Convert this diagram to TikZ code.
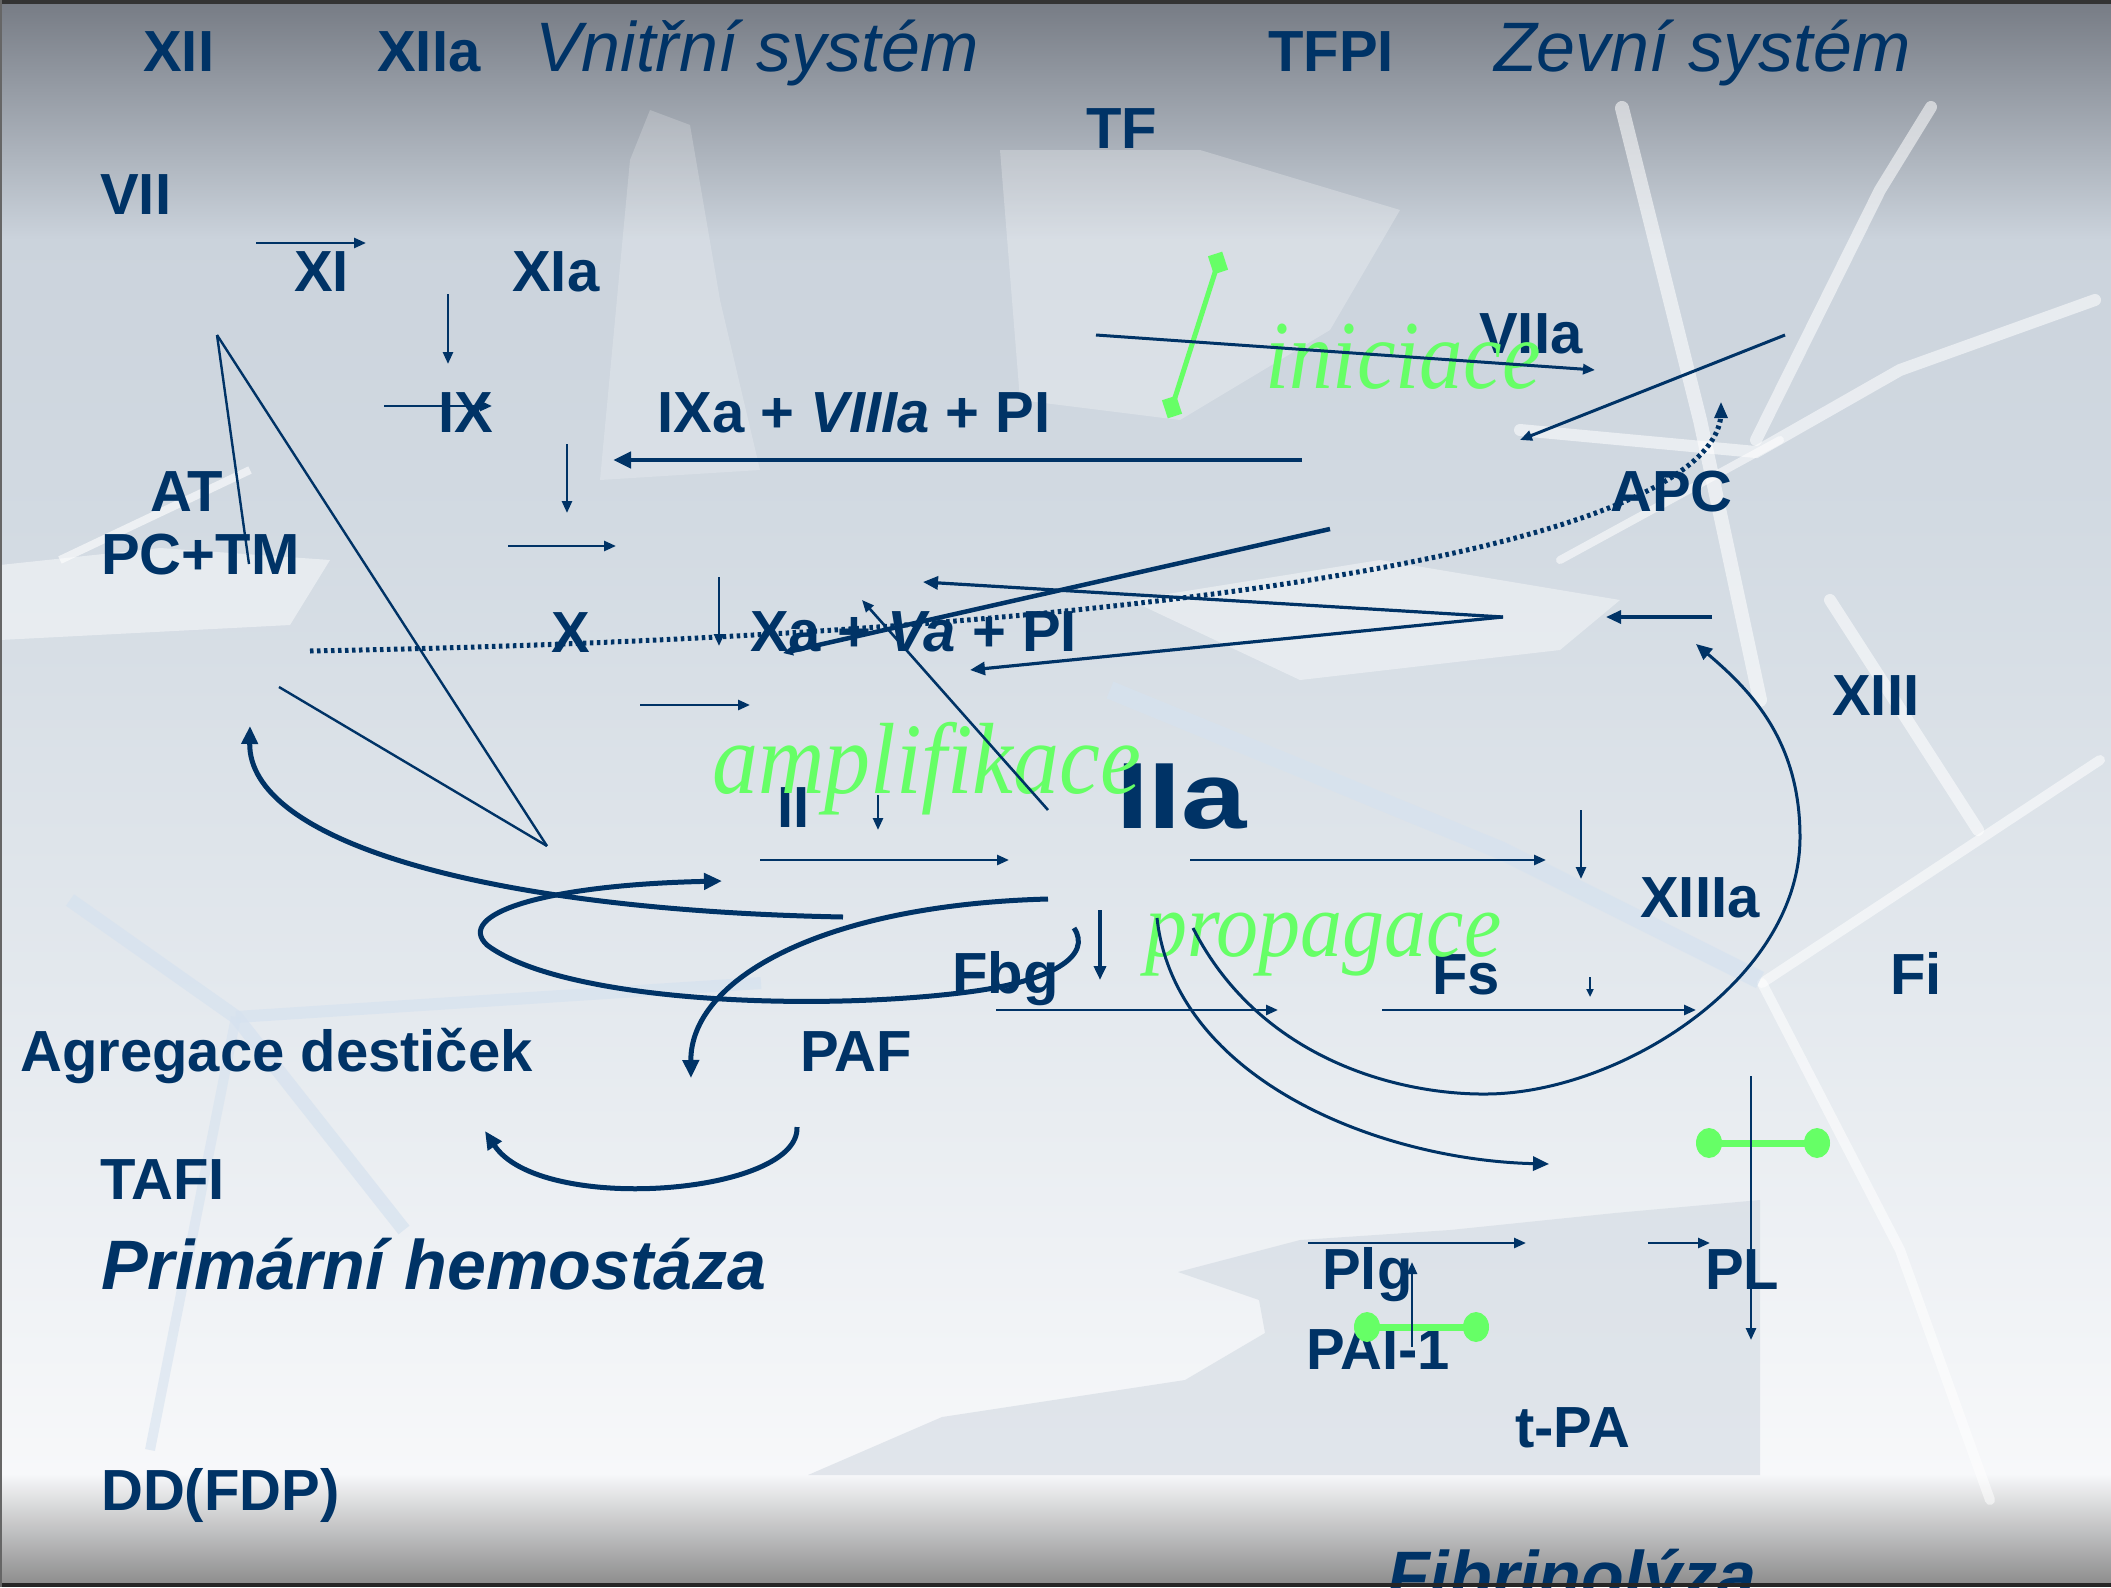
\documentclass[tikz,border=0pt]{standalone}
\usepackage{fontspec}
\usepackage{graphicx}
\setmainfont{Liberation Sans}
\newfontfamily\grnfont{Liberation Serif}
\usetikzlibrary{arrows.meta}
\definecolor{navy}{HTML}{003366}
\definecolor{grn}{HTML}{66FF66}
\definecolor{bgA}{HTML}{767B84}
\definecolor{bgB}{HTML}{CBD3DC}
\definecolor{bgC}{HTML}{D2DAE2}
\definecolor{bgD}{HTML}{E4E9EE}
\definecolor{bgE}{HTML}{F7F8FA}
\definecolor{bgF}{HTML}{8E8E8E}
\definecolor{paleblue}{HTML}{D6E2EF}
\definecolor{shard}{HTML}{CFD7E0}
\begin{document}
\begin{tikzpicture}[x=1pt,y=-1pt,
  lbl/.style={text=navy,font=\bfseries\fontsize{58}{60}\selectfont,inner sep=0pt,anchor=base west},
  ttl/.style={text=navy,font=\itshape\fontsize{70}{72}\selectfont,inner sep=0pt,anchor=base west},
  bit/.style={text=navy,font=\bfseries\itshape\fontsize{70}{72}\selectfont,inner sep=0pt,anchor=base west},
  gtxt/.style={text=grn,inner sep=0pt,anchor=base west},
  thin/.style={draw=navy,line width=2.6pt,-{Triangle[length=12pt,width=10pt]}},
  thinline/.style={draw=navy,line width=2.4pt},
  mid/.style={draw=navy,line width=3.2pt,-{Triangle[length=15pt,width=13pt]}},
  thick/.style={draw=navy,line width=5pt,-{Triangle[length=18pt,width=16pt]}},
  dotline/.style={draw=navy,line width=5pt,dash pattern=on 3.5pt off 3.5pt},
  gbar/.style={draw=grn,line width=7pt},
  streak/.style={draw=white,opacity=0.55,line cap=round},
]
\useasboundingbox (0,0) rectangle (2111,1587);
% ---------- background ----------
\fill[top color=bgA,bottom color=bgB] (0,0) rectangle (2111,240);
\fill[top color=bgB,bottom color=bgC] (0,239) rectangle (2111,520);
\fill[top color=bgC,bottom color=bgD] (0,519) rectangle (2111,1000);
\fill[top color=bgD,bottom color=bgE] (0,999) rectangle (2111,1475);
\fill[top color=bgE,bottom color=bgF] (0,1474) rectangle (2111,1583);
% shards
\fill[white,opacity=0.2] (600,480) -- (630,160) -- (650,110) -- (690,125) -- (720,300) -- (760,470) -- cycle;
\fill[white,opacity=0.45] (0,565) -- (160,548) -- (330,560) -- (290,625) -- (0,640) -- cycle;
\fill[white,opacity=0.25] (1000,150) -- (1200,150) -- (1400,210) -- (1330,330) -- (1180,420) -- (1020,400) -- cycle;
\fill[shard,opacity=0.55] (1178,1272) -- (1259,1300) -- (1265,1333) -- (1185,1380) -- (942,1417) -- (808,1475) -- (1760,1475) -- (1760,1200) -- (1615,1213) -- (1450,1230) -- (1300,1240) -- cycle;
\fill[white,opacity=0.4] (1130,600) -- (1380,560) -- (1620,600) -- (1560,650) -- (1300,680) -- cycle;
\draw[streak,line width=14pt] (1622,108) -- (1700,420) -- (1760,700);
\draw[streak,line width=12pt] (1931,107) -- (1880,190) -- (1756,440);
\draw[streak,line width=12pt] (2095,300) -- (1900,370) -- (1756,452) -- (1520,430);
\draw[streak,line width=12pt] (1830,600) -- (1978,830);
\draw[streak,line width=10pt] (1762,983) -- (2100,760);
\draw[streak,line width=10pt] (1762,983) -- (1900,1250) -- (1990,1500);
\draw[streak,line width=8pt] (1780,440) -- (1560,560);
\draw[paleblue,line width=18pt,opacity=0.7] (1110,690) -- (1500,850) -- (1760,980);
\draw[paleblue,line width=14pt,opacity=0.7] (70,900) -- (236,1017) -- (404,1230);
\draw[paleblue,line width=12pt,opacity=0.7] (236,1017) -- (761,983);
\draw[paleblue,line width=10pt,opacity=0.6] (236,1017) -- (150,1450);
\draw[white,opacity=0.6,line width=8pt] (60,560) -- (250,470);
% ---------- navy labels ----------
\node[lbl] (xii) at (143,71) {XII};
\node[lbl] (xiia) at (377,71) {XIIa};
\node[ttl] (vnitrni) at (535,71) {Vnitřní systém};
\node[lbl] (tfpi) at (1268,71) {TFPI};
\node[ttl] (zevni) at (1494,71) {Zevní systém};
\node[lbl] (tf) at (1086,148) {TF};
\node[lbl] (vii) at (100,214) {VII};
\node[lbl] (xi) at (294,291) {XI};
\node[lbl] (xia) at (512,291) {XIa};
\node[lbl] (ix) at (438,432) {IX};
\node[lbl] (ixa) at (657,432) {IXa + \textit{VIIIa} + PI};
\node[lbl] (viia) at (1479,353) {VIIa};
\node[lbl] (apc) at (1610,511) {APC};
\node[lbl] (at) at (150,511) {AT};
\node[lbl] (pctm) at (101,574) {PC+TM};
\node[lbl] (x) at (551,652) {X};
\node[lbl] (xa) at (750,651) {Xa + \textit{Va} + PI};
\node[lbl] (ii) at (777,827) {II};
\node[lbl,font=\bfseries\fontsize{94}{96}\selectfont] (iia) at (1116,828) {\scalebox{1.25}[1]{IIa}};
\node[lbl] (xiii) at (1832,715) {XIII};
\node[lbl] (xiiia) at (1640,917) {XIIIa};
\node[lbl] (fbg) at (952,993) {Fbg};
\node[lbl] (fs) at (1432,994) {Fs};
\node[lbl] (fi) at (1890,994) {Fi};
\node[lbl] (agr) at (20,1071) {Agregace destiček};
\node[lbl] (paf) at (800,1071) {PAF};
\node[lbl] (tafi) at (100,1199) {TAFI};
\node[bit] (prim) at (101,1289) {Primární hemostáza};
\node[lbl] (plg) at (1322,1289) {Plg};
\node[lbl] (pl) at (1705,1289) {PL};
\node[lbl] (pai) at (1306,1369) {PAI-1};
\node[lbl] (tpa) at (1515,1447) {t-PA};
\node[lbl] (ddfdp) at (101,1510) {DD(FDP)};
\node[bit] (fibr) at (1387,1600) {Fibrinolýza};
% ---------- green labels ----------
\node[gtxt,font=\grnfont\itshape\fontsize{87}{90}\selectfont] (inic) at (1265,388) {\scalebox{1}[1.12]{iniciace}};
\node[gtxt,font=\grnfont\itshape\fontsize{92}{95}\selectfont] (ampl) at (712,793) {\scalebox{1}[1.1]{amplifikace}};
\node[gtxt,font=\grnfont\itshape\fontsize{84}{87}\selectfont] (prop) at (1145,956) {\scalebox{1}[1.1]{propagace}};
% green bars
\coordinate (g1a) at (1218,263); \coordinate (g1b) at (1172,407);
\draw[gbar,line width=5pt] (g1a) -- (g1b);
\node[fill=grn,inner sep=0pt,minimum width=15pt,minimum height=19pt,rotate=18] (g1ca) at (g1a) {};
\node[fill=grn,inner sep=0pt,minimum width=15pt,minimum height=19pt,rotate=18] (g1cb) at (g1b) {};
\coordinate (g2a) at (1709,1143); \coordinate (g2b) at (1817,1143);
\draw[gbar] (g2a) -- (g2b);
\fill[grn] (g2a) ellipse [x radius=13pt,y radius=15pt];
\fill[grn] (g2b) ellipse [x radius=13pt,y radius=15pt];
\coordinate (g3a) at (1367,1327); \coordinate (g3b) at (1476,1327);
\draw[gbar] (g3a) -- (g3b);
\fill[grn] (g3a) ellipse [x radius=13pt,y radius=15pt];
\fill[grn] (g3b) ellipse [x radius=13pt,y radius=15pt];
% ---------- connectors ----------
\coordinate (a1s) at (256,243); \coordinate (a1e) at (366,243);
\draw[thin] (a1s) -- (a1e);
\coordinate (a2s) at (448,294); \coordinate (a2e) at (448,364);
\draw[thin] (a2s) -- (a2e);
\coordinate (a3s) at (384,406); \coordinate (a3e) at (492,406);
\draw[thin] (a3s) -- (a3e);
\coordinate (a4s) at (567,444); \coordinate (a4e) at (567,513);
\draw[thin] (a4s) -- (a4e);
\coordinate (a5s) at (1302,460); \coordinate (a5e) at (613,460);
\draw[thick,line width=4.5pt] (a5s) -- (a5e);
\coordinate (a6s) at (508,546); \coordinate (a6e) at (616,546);
\draw[thin] (a6s) -- (a6e);
\coordinate (hub) at (1503,617);
\coordinate (a7e) at (923,582); \coordinate (a8e) at (970,670);
\draw[mid] (hub) -- (a7e);
\draw[mid] (hub) -- (a8e);
\coordinate (a9s) at (1712,617); \coordinate (a9e) at (1606,617);
\draw[mid] (a9s) -- (a9e);
\coordinate (a10s) at (1330,529); \coordinate (a10e) at (783,653);
\draw[thick,line width=4.5pt,-{Triangle[length=10pt,width=9pt]}] (a10s) -- (a10e);
\coordinate (a11s) at (1048,810); \coordinate (a11e) at (862,600);
\draw[thin] (a11s) -- (a11e);
\coordinate (a12s) at (719,577); \coordinate (a12e) at (719,646);
\draw[thin] (a12s) -- (a12e);
\coordinate (a13s) at (640,705); \coordinate (a13e) at (750,705);
\draw[thin] (a13s) -- (a13e);
\coordinate (a14s) at (1096,335); \coordinate (a14e) at (1595,370);
\draw[thin,line width=3pt] (a14s) -- (a14e);
\coordinate (a15s) at (1785,335); \coordinate (a15e) at (1520,440);
\draw[thin,line width=3pt] (a15s) -- (a15e);
% dotted APC curve
\coordinate (d0) at (310,651); \coordinate (d1) at (1721,402);
\draw[dotline] (d0) .. controls (1200,635) and (1725,540) .. ([yshift=-8pt]d1);
\draw[navy,line width=3pt,-{Triangle[length=16pt,width=13pt]}] ([yshift=-6pt]d1) -- (d1);
% triangle lines
\coordinate (t0) at (217,335); \coordinate (t1) at (249,564);
\coordinate (t2) at (547,846); \coordinate (t3) at (279,687);
\draw[thinline] (t0) -- (t1);
\draw[thinline] (t0) -- (t2);
\draw[thinline] (t3) -- (t2);
% II -> IIa -> XIIIa
\coordinate (b1s) at (760,860); \coordinate (b1e) at (1009,860);
\draw[thin] (b1s) -- (b1e);
\coordinate (b2s) at (1190,860); \coordinate (b2e) at (1546,860);
\draw[thin] (b2s) -- (b2e);
\coordinate (b3s) at (1581,810); \coordinate (b3e) at (1581,879);
\draw[thin] (b3s) -- (b3e);
\coordinate (b4s) at (878,795); \coordinate (b4e) at (878,830);
\draw[thin] (b4s) -- (b4e);
\coordinate (b5s) at (1100,910); \coordinate (b5e) at (1100,980);
\draw[thin,line width=4pt,-{Triangle[length=14pt,width=12pt]}] (b5s) -- (b5e);
\coordinate (b6s) at (996,1010); \coordinate (b6e) at (1278,1010);
\draw[thin] (b6s) -- (b6e);
\coordinate (b7s) at (1382,1010); \coordinate (b7e) at (1696,1010);
\draw[thin] (b7s) -- (b7e);
\coordinate (b8s) at (1590,977); \coordinate (b8e) at (1590,997);
\draw[draw=navy,line width=2pt,-{Triangle[length=8pt,width=7pt]}] (b8s) -- (b8e);
% big curves
\coordinate (c17s) at (843,917); \coordinate (c17e) at (250,726);
\draw[thick] (c17s) .. controls (480,910) and (248,840) .. (c17e);
\coordinate (c19s) at (1074,928); \coordinate (c19e) at (722,881);
\draw[thick] (c19s) .. controls (1092,955) and (1055,982) .. (960,993)
  .. controls (800,1012) and (560,1000) .. (487,945)
  .. controls (455,915) and (540,885) .. (c19e);
\coordinate (c18s) at (1048,899); \coordinate (c18e) at (691,1078);
\draw[thick] (c18s) .. controls (820,905) and (690,980) .. (c18e);
\coordinate (cps) at (797,1127); \coordinate (cpe) at (485,1131);
\draw[thick] (cps) .. controls (800,1195) and (540,1215) .. (cpe);
\coordinate (cas) at (1157,918); \coordinate (cae) at (1549,1164);
\draw[thin,line width=3pt,-{Triangle[length=16pt,width=14pt]}] (cas) .. controls (1175,1080) and (1380,1160) .. (cae);
\coordinate (cbs) at (1193,928); \coordinate (cbe) at (1696,644);
\draw[thin,line width=3pt,-{Triangle[length=16pt,width=14pt]}] (cbs) .. controls (1260,1060) and (1400,1095) .. (1487,1094)
  .. controls (1620,1093) and (1800,980) .. (1800,837)
  .. controls (1800,740) and (1750,690) .. (cbe);
% fibrinolysis
\coordinate (f1s) at (1751,1076); \coordinate (f1e) at (1751,1340);
\draw[thin] (f1s) -- (f1e);
\coordinate (f2s) at (1308,1243); \coordinate (f2e) at (1526,1243);
\draw[thin] (f2s) -- (f2e);
\coordinate (f3s) at (1648,1243); \coordinate (f3e) at (1710,1243);
\draw[thin] (f3s) -- (f3e);
\coordinate (f4s) at (1412,1347); \coordinate (f4e) at (1412,1262);
\draw[thin] (f4s) -- (f4e);
% frame lines
\fill[black!85] (0,1583) rectangle (2111,1587);
\fill[black!80] (0,0) rectangle (2111,4);
\fill[black!60] (0,0) rectangle (2,1587);
\end{tikzpicture}
\end{document}
